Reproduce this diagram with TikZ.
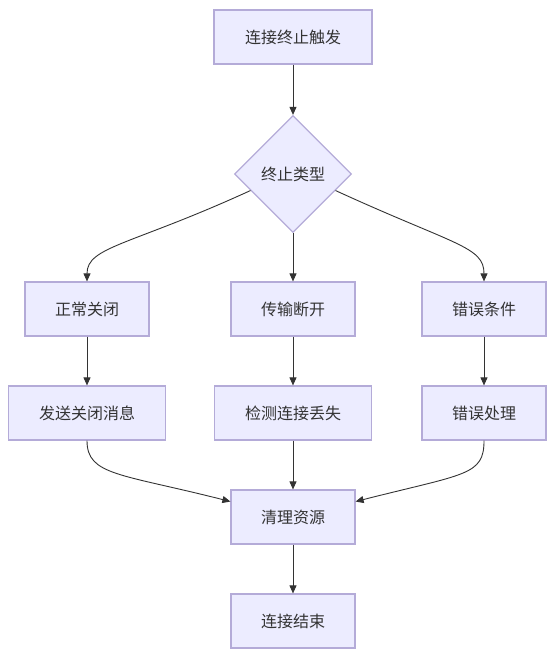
\documentclass[tikz,border=0pt]{standalone}
\usepackage{fontspec}
\newfontfamily\cjk{Noto Sans CJK SC}
\usetikzlibrary{shapes.geometric,arrows.meta,calc}
\definecolor{boxfill}{HTML}{ECECFF}
\definecolor{boxline}{HTML}{B4ABD8}
\definecolor{ink}{HTML}{333333}
\begin{document}
\begin{tikzpicture}[x=1pt,y=1pt,
    box/.style={draw=boxline, fill=boxfill, line width=1.2pt, minimum height=54pt,
        inner sep=0pt, font=\cjk\fontsize{16}{20}\selectfont, text=ink},
    choice/.style={diamond, draw=boxline, fill=boxfill, line width=1.2pt, aspect=1,
        minimum size=117pt, inner sep=0pt, font=\cjk\fontsize{16}{20}\selectfont, text=ink},
    link/.style={draw=ink, line width=0.9pt, -{Triangle[length=8pt,width=7pt]}}]
    \useasboundingbox (0,0) rectangle (555,-650);
    \node[box, minimum width=158pt] (trig) at (293,-37) {连接终止触发};
    \node[choice] (type) at (293,-174) {终止类型};
    \node[box, minimum width=124pt] (close) at (87,-309) {正常关闭};
    \node[box, minimum width=124pt] (drop) at (293,-309) {传输断开};
    \node[box, minimum width=124pt] (err) at (484,-309) {错误条件};
    \node[box, minimum width=157pt] (send) at (87,-413) {发送关闭消息};
    \node[box, minimum width=157pt] (detect) at (293,-413) {检测连接丢失};
    \node[box, minimum width=124pt] (handle) at (484,-413) {错误处理};
    \node[box, minimum width=124pt] (clean) at (293,-517) {清理资源};
    \node[box, minimum width=124pt] (done) at (293,-621) {连接结束};
    \coordinate (typeL) at ($(type.west)!0.28!(type.south)$);
    \coordinate (typeR) at ($(type.east)!0.28!(type.south)$);
    \coordinate (cleanL) at ($(clean.north west)!0.22!(clean.south west)$);
    \coordinate (cleanR) at ($(clean.north east)!0.22!(clean.south east)$);
    \draw[link] (trig) -- (type);
    \draw[link] (typeL) .. controls +(-120,-55) and +(0,35) .. (close.north);
    \draw[link] (type) -- (drop);
    \draw[link] (typeR) .. controls +(120,-55) and +(0,35) .. (err.north);
    \draw[link] (close) -- (send);
    \draw[link] (drop) -- (detect);
    \draw[link] (err) -- (handle);
    \draw[link] (send.south) .. controls +(0,-35) and +(-110,28) .. (cleanL);
    \draw[link] (detect) -- (clean);
    \draw[link] (handle.south) .. controls +(0,-35) and +(110,28) .. (cleanR);
    \draw[link] (clean) -- (done);
\end{tikzpicture}
\end{document}
